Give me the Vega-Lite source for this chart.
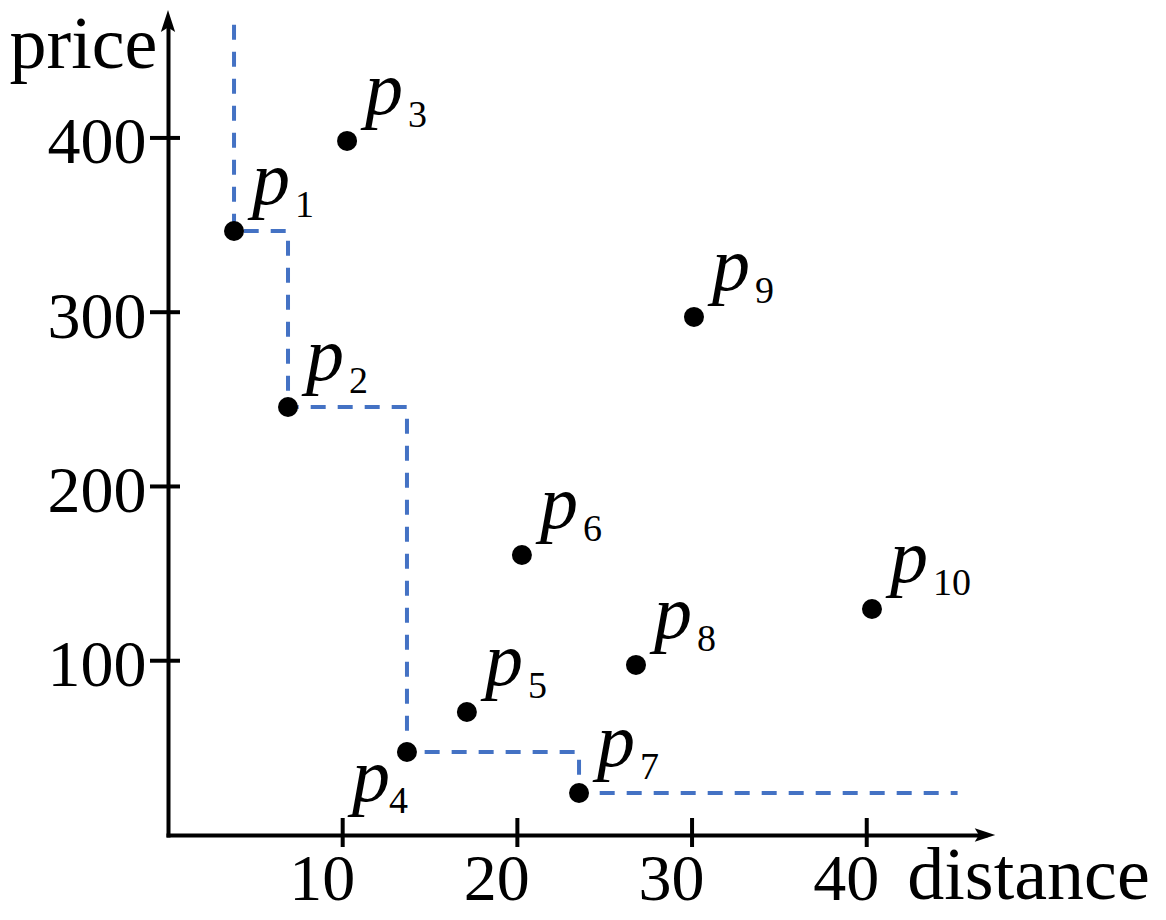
{
  "$schema": "https://vega.github.io/schema/vega-lite/v6.json",
  "width": 817,
  "height": 814,
  "autosize": {"type": "none"},
  "padding": {"left": 168, "top": 21, "right": 181, "bottom": 85},
  "background": "white",
  "config": {"view": {"stroke": null}, "font": "Liberation Serif, Times New Roman, serif"},
  "datasets": {
    "points": [
      {"name": "p1", "sub": "1", "distance": 3.78, "price": 346.6},
      {"name": "p2", "sub": "2", "distance": 6.87, "price": 245.6},
      {"name": "p3", "sub": "3", "distance": 10.25, "price": 398.3},
      {"name": "p4", "sub": "4", "distance": 13.68, "price": 47.6},
      {"name": "p5", "sub": "5", "distance": 17.11, "price": 70.6},
      {"name": "p6", "sub": "6", "distance": 20.26, "price": 160.7},
      {"name": "p7", "sub": "7", "distance": 23.53, "price": 24.1},
      {"name": "p8", "sub": "8", "distance": 26.79, "price": 97.6},
      {"name": "p9", "sub": "9", "distance": 30.11, "price": 297.3},
      {"name": "p10", "sub": "10", "distance": 40.3, "price": 129.7}
    ],
    "skyline": [
      {"step": 0, "distance": 3.78, "price": 465},
      {"step": 1, "distance": 3.78, "price": 346.6},
      {"step": 2, "distance": 6.87, "price": 346.6},
      {"step": 3, "distance": 6.87, "price": 245.6},
      {"step": 4, "distance": 13.68, "price": 245.6},
      {"step": 5, "distance": 13.68, "price": 47.6},
      {"step": 6, "distance": 23.53, "price": 47.6},
      {"step": 7, "distance": 23.53, "price": 24.1},
      {"step": 8, "distance": 45.2, "price": 24.1}
    ],
    "xticks": [
      {"distance": 10, "price": 0},
      {"distance": 20, "price": 0},
      {"distance": 30, "price": 0},
      {"distance": 40, "price": 0}
    ],
    "yticks": [
      {"distance": 0, "price": 100},
      {"distance": 0, "price": 200},
      {"distance": 0, "price": 300},
      {"distance": 0, "price": 400}
    ],
    "xarrow": [{"distance": 46.77, "price": 0}],
    "yarrow": [{"distance": 0, "price": 467.1}]
  },
  "encoding": {
    "x": {
      "field": "distance",
      "type": "quantitative",
      "scale": {"domain": [0, 46.77], "nice": false, "zero": false},
      "axis": {
        "values": [10, 20, 30, 40],
        "grid": false,
        "ticks": false,
        "tickSize": 0,
        "domainColor": "black",
        "domainWidth": 4,
        "domainCap": "square",
        "labelFont": "Liberation Serif, Times New Roman, serif",
        "labelFontSize": 66,
        "labelColor": "black",
        "labelBaseline": "alphabetic",
        "labelPadding": 64,
        "labelOffset": -21,
        "labelFlush": false,
        "labelOverlap": false,
        "title": "distance",
        "titleFont": "Liberation Serif, Times New Roman, serif",
        "titleFontSize": 74,
        "titleFontWeight": "normal",
        "titleColor": "black",
        "titleX": 860,
        "titleY": 63,
        "titleAlign": "center",
        "titleBaseline": "alphabetic"
      }
    },
    "y": {
      "field": "price",
      "type": "quantitative",
      "scale": {"domain": [0, 467.1], "nice": false, "zero": false},
      "axis": {
        "values": [100, 200, 300, 400],
        "grid": false,
        "ticks": false,
        "tickSize": 0,
        "domainColor": "black",
        "domainWidth": 4,
        "domainCap": "square",
        "labelFont": "Liberation Serif, Times New Roman, serif",
        "labelFontSize": 66,
        "labelColor": "black",
        "labelAlign": "right",
        "labelBaseline": "alphabetic",
        "labelPadding": 22,
        "labelOffset": 25,
        "labelFlush": false,
        "labelOverlap": false,
        "title": "price",
        "titleFont": "Liberation Serif, Times New Roman, serif",
        "titleFontSize": 74,
        "titleFontWeight": "normal",
        "titleColor": "black",
        "titleAngle": 0,
        "titleX": -85,
        "titleY": 46,
        "titleAlign": "center",
        "titleBaseline": "alphabetic"
      }
    }
  },
  "layer": [
    {
      "data": {"name": "skyline"},
      "mark": {"type": "line", "color": "#4472C4", "strokeWidth": 4, "strokeDash": [15, 12], "strokeCap": "butt"},
      "encoding": {
        "order": {"field": "step", "type": "quantitative"}
      }
    },
    {
      "data": {"name": "xticks"},
      "mark": {"type": "tick", "orient": "vertical", "size": 29, "thickness": 4, "color": "black", "opacity": 1, "yOffset": -2.5}
    },
    {
      "data": {"name": "yticks"},
      "mark": {"type": "tick", "orient": "horizontal", "size": 30, "thickness": 4, "color": "black", "opacity": 1, "xOffset": -3}
    },
    {
      "data": {"name": "xarrow"},
      "mark": {"type": "point", "shape": "M1,0L-1,-0.65L-0.6,0L-1,0.65Z", "size": 420, "filled": true, "color": "black", "opacity": 1, "strokeWidth": 0}
    },
    {
      "data": {"name": "yarrow"},
      "mark": {"type": "point", "shape": "M0,-1L0.65,1L0,0.6L-0.65,1Z", "size": 484, "filled": true, "color": "black", "opacity": 1, "strokeWidth": 0}
    },
    {
      "data": {"name": "points"},
      "mark": {"type": "circle", "size": 400, "color": "black", "opacity": 1}
    },
    {
      "data": {"name": "points"},
      "transform": [{"filter": "datum.sub !== '4'"}],
      "mark": {"type": "text", "font": "Liberation Serif, Times New Roman, serif", "fontStyle": "italic", "fontSize": 76, "align": "left", "baseline": "alphabetic", "dx": 18, "dy": -27, "color": "black"},
      "encoding": {"text": {"value": "p"}}
    },
    {
      "data": {"name": "points"},
      "transform": [{"filter": "datum.sub !== '4'"}],
      "mark": {"type": "text", "font": "Liberation Serif, Times New Roman, serif", "fontSize": 38, "align": "left", "baseline": "alphabetic", "dx": 61, "dy": -14, "color": "black"},
      "encoding": {"text": {"field": "sub", "type": "nominal"}}
    },
    {
      "data": {"name": "points"},
      "transform": [{"filter": "datum.sub === '4'"}],
      "mark": {"type": "text", "font": "Liberation Serif, Times New Roman, serif", "fontStyle": "italic", "fontSize": 76, "align": "left", "baseline": "alphabetic", "dx": -55, "dy": 49, "color": "black"},
      "encoding": {"text": {"value": "p"}}
    },
    {
      "data": {"name": "points"},
      "transform": [{"filter": "datum.sub === '4'"}],
      "mark": {"type": "text", "font": "Liberation Serif, Times New Roman, serif", "fontSize": 38, "align": "left", "baseline": "alphabetic", "dx": -18, "dy": 61, "color": "black"},
      "encoding": {"text": {"field": "sub", "type": "nominal"}}
    }
  ]
}
